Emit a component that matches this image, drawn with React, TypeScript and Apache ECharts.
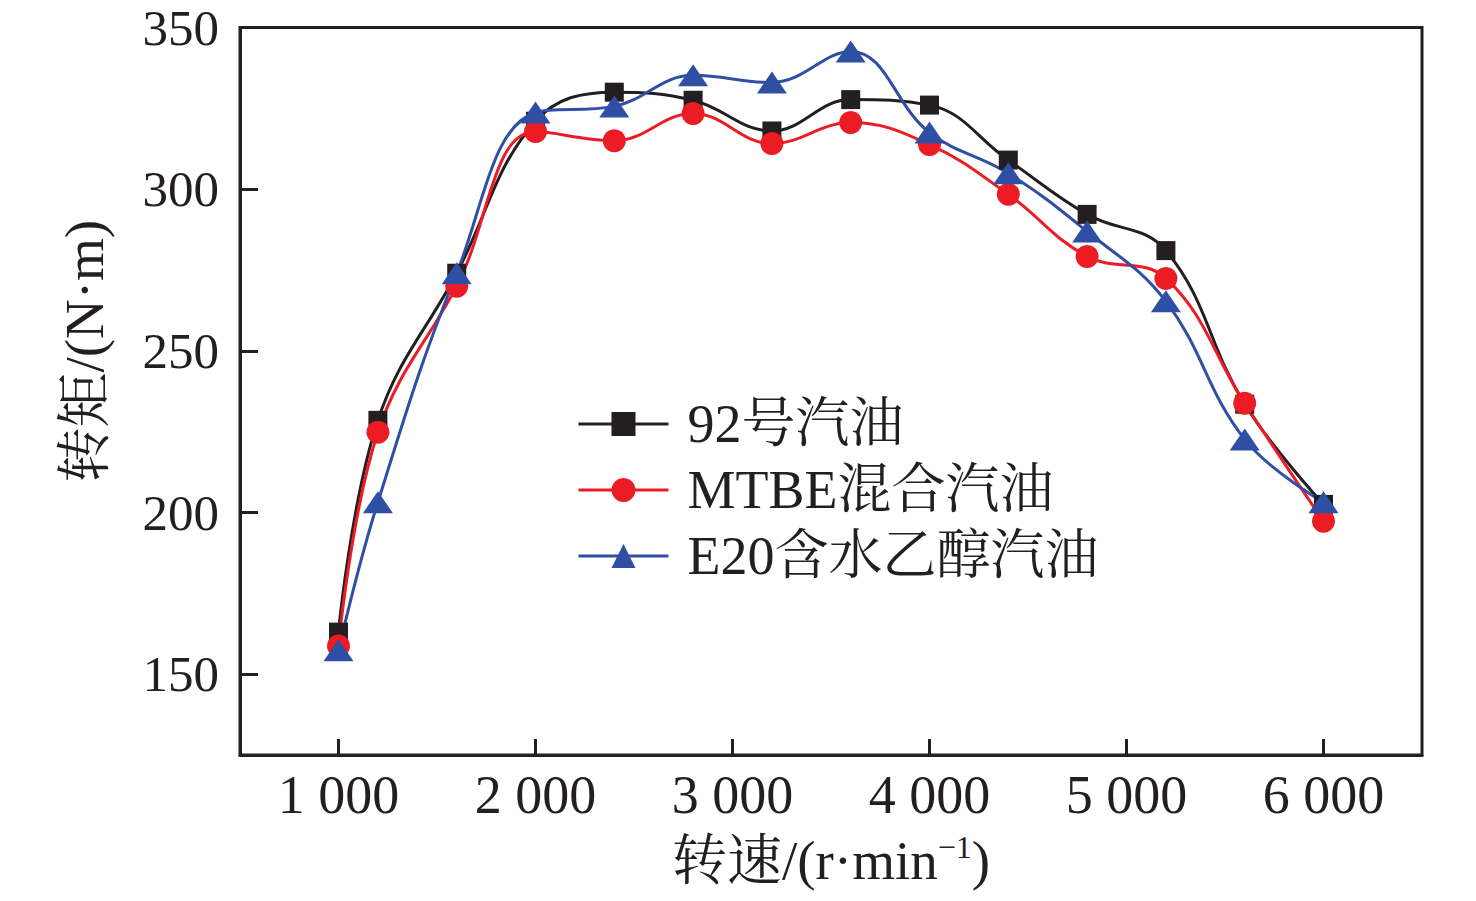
import React, { useEffect, useRef } from "react";
import * as echarts from "echarts";

const speeds = [1000, 1200, 1600, 2000, 2400, 2800, 3200, 3600, 4000, 4400, 4800, 5200, 5600, 6000];
const gasoline92 = [163, 228.5, 274, 321, 330, 327.5, 318, 327.7, 326, 309, 292.2, 281, 233.5, 202.5];
const mtbe = [158.7, 224.8, 270, 317.8, 315, 323.4, 314.1, 320.6, 313.8, 298.4, 279.2, 272.4, 233.8, 197.3];
const e20 = [157.4, 203.2, 274, 323.7, 325.6, 335.2, 333, 342.6, 317.5, 304.9, 286.9, 265.3, 222.6, 203.2];
const seriesNames = ["92号汽油", "MTBE混合汽油", "E20含水乙醇汽油"];
const xTicks = [1000, 2000, 3000, 4000, 5000, 6000];
const yTicks = [150, 200, 250, 300, 350];

const FONT = "'Liberation Serif', 'Times New Roman', 'Noto Serif CJK SC', 'Noto Sans CJK SC', serif";
const INK = "#231f20";
const RED = "#ed1c24";
const BLUE = "#2f4fa5";

function toPairs(ys: number[]) {
  return speeds.map((x, i) => [x, ys[i]]);
}

export default function App() {
  const ref = useRef<HTMLDivElement>(null);
  useEffect(() => {
    if (!ref.current) return;
    const chart = echarts.init(ref.current, null, { renderer: "svg" });
    const lineCommon = {
      type: "line" as const,
      smooth: 0.4,
      emphasis: { disabled: true },
    };
    chart.setOption({
      animation: false,
      backgroundColor: "#ffffff",
      textStyle: { fontFamily: FONT },
      grid: {
        left: 240,
        right: 54,
        top: 27.5,
        bottom: 146,
        show: true,
        borderColor: INK,
        borderWidth: 3,
        backgroundColor: "transparent",
      },
      legend: {
        orient: "vertical",
        left: 572,
        top: 392,
        itemWidth: 90,
        itemHeight: 30,
        itemGap: 12,
        data: seriesNames,
        lineStyle: { width: 3 },
        textStyle: {
          fontFamily: FONT,
          fontSize: 54,
          color: INK,
          padding: [0, 0, 0, 14],
        },
      },
      xAxis: {
        type: "value",
        min: 500,
        max: 6500,
        name: "转速/(r·min{sup|−1})",
        nameLocation: "middle",
        nameGap: 76,
        nameTextStyle: {
          fontFamily: FONT,
          fontSize: 55,
          color: INK,
          lineHeight: 58,
          rich: {
            sup: { fontFamily: FONT, fontSize: 32, color: INK, verticalAlign: "top", lineHeight: 30 },
          },
        },
        axisLine: { show: true, lineStyle: { color: INK, width: 3 } },
        axisTick: { show: true, inside: true, length: 16, lineStyle: { color: INK, width: 3 }, customValues: xTicks },
        axisLabel: {
          customValues: xTicks,
          fontFamily: FONT,
          fontSize: 54,
          color: INK,
          margin: 13,
          formatter: (v: number) => {
            const s = String(Math.round(v));
            return s.length > 3 ? s.slice(0, s.length - 3) + " " + s.slice(-3) : s;
          },
        },
        splitLine: { show: false },
      },
      yAxis: {
        type: "value",
        min: 125,
        max: 350,
        name: "转矩/(N·m)",
        nameLocation: "middle",
        nameGap: 128,
        nameRotate: 90,
        nameTextStyle: {
          fontFamily: FONT,
          fontSize: 55,
          color: INK,
          padding: [0, 0, 0, 80],
        },
        axisLine: { show: true, lineStyle: { color: INK, width: 3 } },
        axisTick: { show: true, inside: true, length: 18, lineStyle: { color: INK, width: 3 }, customValues: yTicks },
        axisLabel: {
          customValues: yTicks,
          fontFamily: FONT,
          fontSize: 51,
          lineHeight: 44,
          color: INK,
          margin: 21,
        },
        splitLine: { show: false },
      },
      series: [
        {
          ...lineCommon,
          name: seriesNames[0],
          data: toPairs(gasoline92),
          symbol: "rect",
          symbolSize: 19,
          itemStyle: { color: INK },
          lineStyle: { width: 3, color: INK },
        },
        {
          ...lineCommon,
          name: seriesNames[1],
          data: toPairs(mtbe),
          symbol: "circle",
          symbolSize: 23,
          itemStyle: { color: RED },
          lineStyle: { width: 3, color: RED },
        },
        {
          ...lineCommon,
          name: seriesNames[2],
          data: toPairs(e20),
          symbol: "triangle",
          symbolSize: [30, 22],
          itemStyle: { color: BLUE },
          lineStyle: { width: 3, color: BLUE },
        },
      ],
    });
    return () => chart.dispose();
  }, []);
  return (
    <div
      ref={ref}
      style={{ position: "fixed", left: 0, top: 0, width: 1476, height: 901, background: "#fff" }}
    />
  );
}
